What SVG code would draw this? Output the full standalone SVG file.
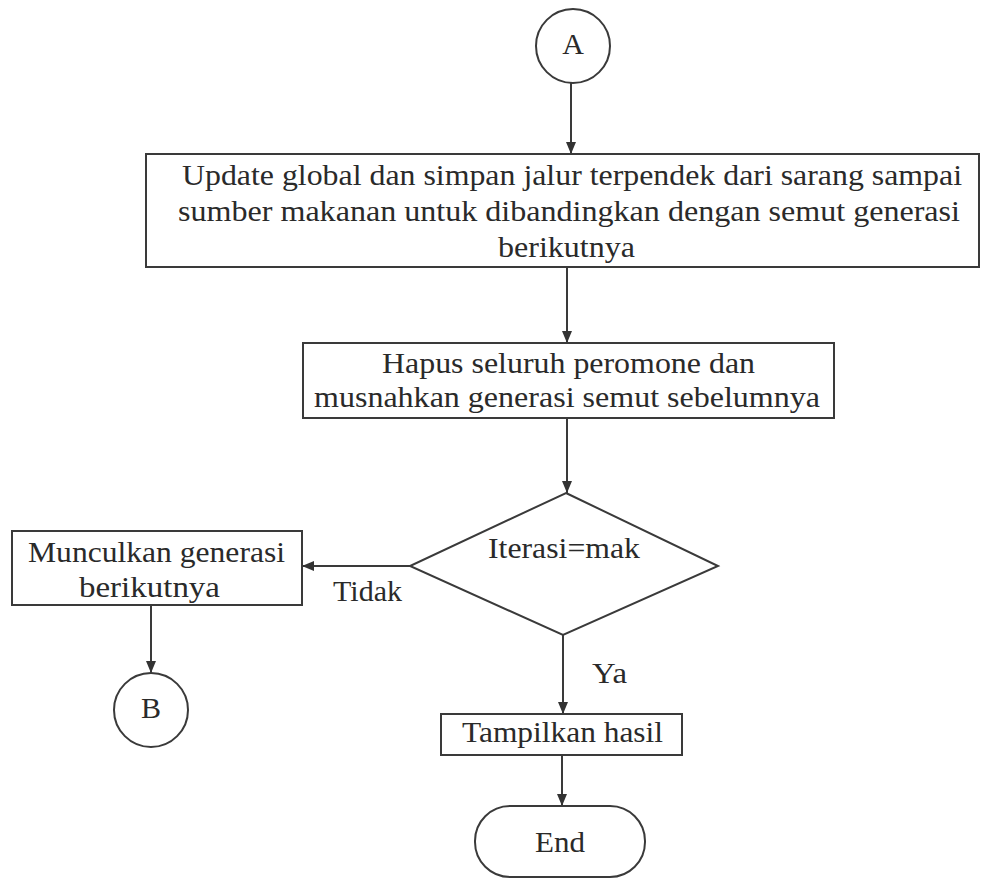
<svg xmlns="http://www.w3.org/2000/svg" width="982" height="879" viewBox="0 0 982 879">
  <defs>
    <marker id="arrow" viewBox="0 0 12 10" refX="12" refY="5" markerWidth="12" markerHeight="10" markerUnits="userSpaceOnUse" orient="auto">
      <path d="M0,0 L12,5 L0,10 Z" fill="#333"/>
    </marker>
    <style>
      .shape { fill: #fff; stroke: #3a3a3a; stroke-width: 2; }
      .edge { fill: none; stroke: #3a3a3a; stroke-width: 2; marker-end: url(#arrow); }
      .label { font-family: "Liberation Serif", "Times New Roman", serif; font-size: 30px; fill: #2a2a2a; }
      .mid { text-anchor: middle; }
    </style>
  </defs>
  <rect width="982" height="879" fill="#fff"/>

  <g id="connectors">
    <line class="edge" x1="571" y1="83" x2="571" y2="154"/>
    <line class="edge" x1="567" y1="267" x2="567" y2="343"/>
    <line class="edge" x1="567" y1="418" x2="567" y2="493"/>
    <line class="edge" x1="410" y1="566" x2="302" y2="566"/>
    <line class="edge" x1="151" y1="605" x2="151" y2="673"/>
    <line class="edge" x1="563" y1="635" x2="563" y2="714"/>
    <line class="edge" x1="562" y1="755" x2="562" y2="806"/>
  </g>

  <g id="start-a">
    <circle class="shape" cx="573" cy="46" r="37"/>
    <text class="label mid" x="573" y="54">A</text>
  </g>

  <g id="update-global">
    <rect class="shape" x="146" y="154" width="833" height="113"/>
    <text class="label" x="182" y="185" textLength="780" lengthAdjust="spacingAndGlyphs">Update global dan simpan jalur terpendek dari sarang sampai</text>
    <text class="label" x="178" y="221" textLength="782" lengthAdjust="spacingAndGlyphs">sumber makanan untuk dibandingkan dengan semut generasi</text>
    <text class="label" x="498" y="257" textLength="137" lengthAdjust="spacingAndGlyphs">berikutnya</text>
  </g>

  <g id="hapus-peromone">
    <rect class="shape" x="303" y="343" width="531" height="75"/>
    <text class="label" x="382" y="373" textLength="373" lengthAdjust="spacingAndGlyphs">Hapus seluruh peromone dan</text>
    <text class="label" x="314" y="407" textLength="506" lengthAdjust="spacingAndGlyphs">musnahkan generasi semut sebelumnya</text>
  </g>

  <g id="cek-iterasi">
    <polygon class="shape" points="566,493 718,566 563,635 410,566"/>
    <text class="label" x="488" y="558" textLength="152" lengthAdjust="spacingAndGlyphs">Iterasi=mak</text>
  </g>

  <g id="generasi-berikut">
    <rect class="shape" x="12" y="531" width="290" height="74"/>
    <text class="label" x="28" y="562" textLength="257" lengthAdjust="spacingAndGlyphs">Munculkan generasi</text>
    <text class="label" x="79" y="597" textLength="141" lengthAdjust="spacingAndGlyphs">berikutnya</text>
  </g>

  <g id="connector-b">
    <circle class="shape" cx="151" cy="710" r="37"/>
    <text class="label mid" x="151" y="718">B</text>
  </g>

  <g id="tampilkan-hasil">
    <rect class="shape" x="441" y="714" width="241" height="41"/>
    <text class="label" x="462" y="742" textLength="201" lengthAdjust="spacingAndGlyphs">Tampilkan hasil</text>
  </g>

  <g id="end">
    <rect class="shape" x="475" y="806" width="170" height="71" rx="35" ry="35"/>
    <text class="label" x="535" y="852" textLength="50" lengthAdjust="spacingAndGlyphs">End</text>
  </g>

  <g id="edge-labels">
    <text class="label" x="333" y="601" textLength="69" lengthAdjust="spacingAndGlyphs">Tidak</text>
    <text class="label" x="592" y="683" textLength="35" lengthAdjust="spacingAndGlyphs">Ya</text>
  </g>
</svg>
